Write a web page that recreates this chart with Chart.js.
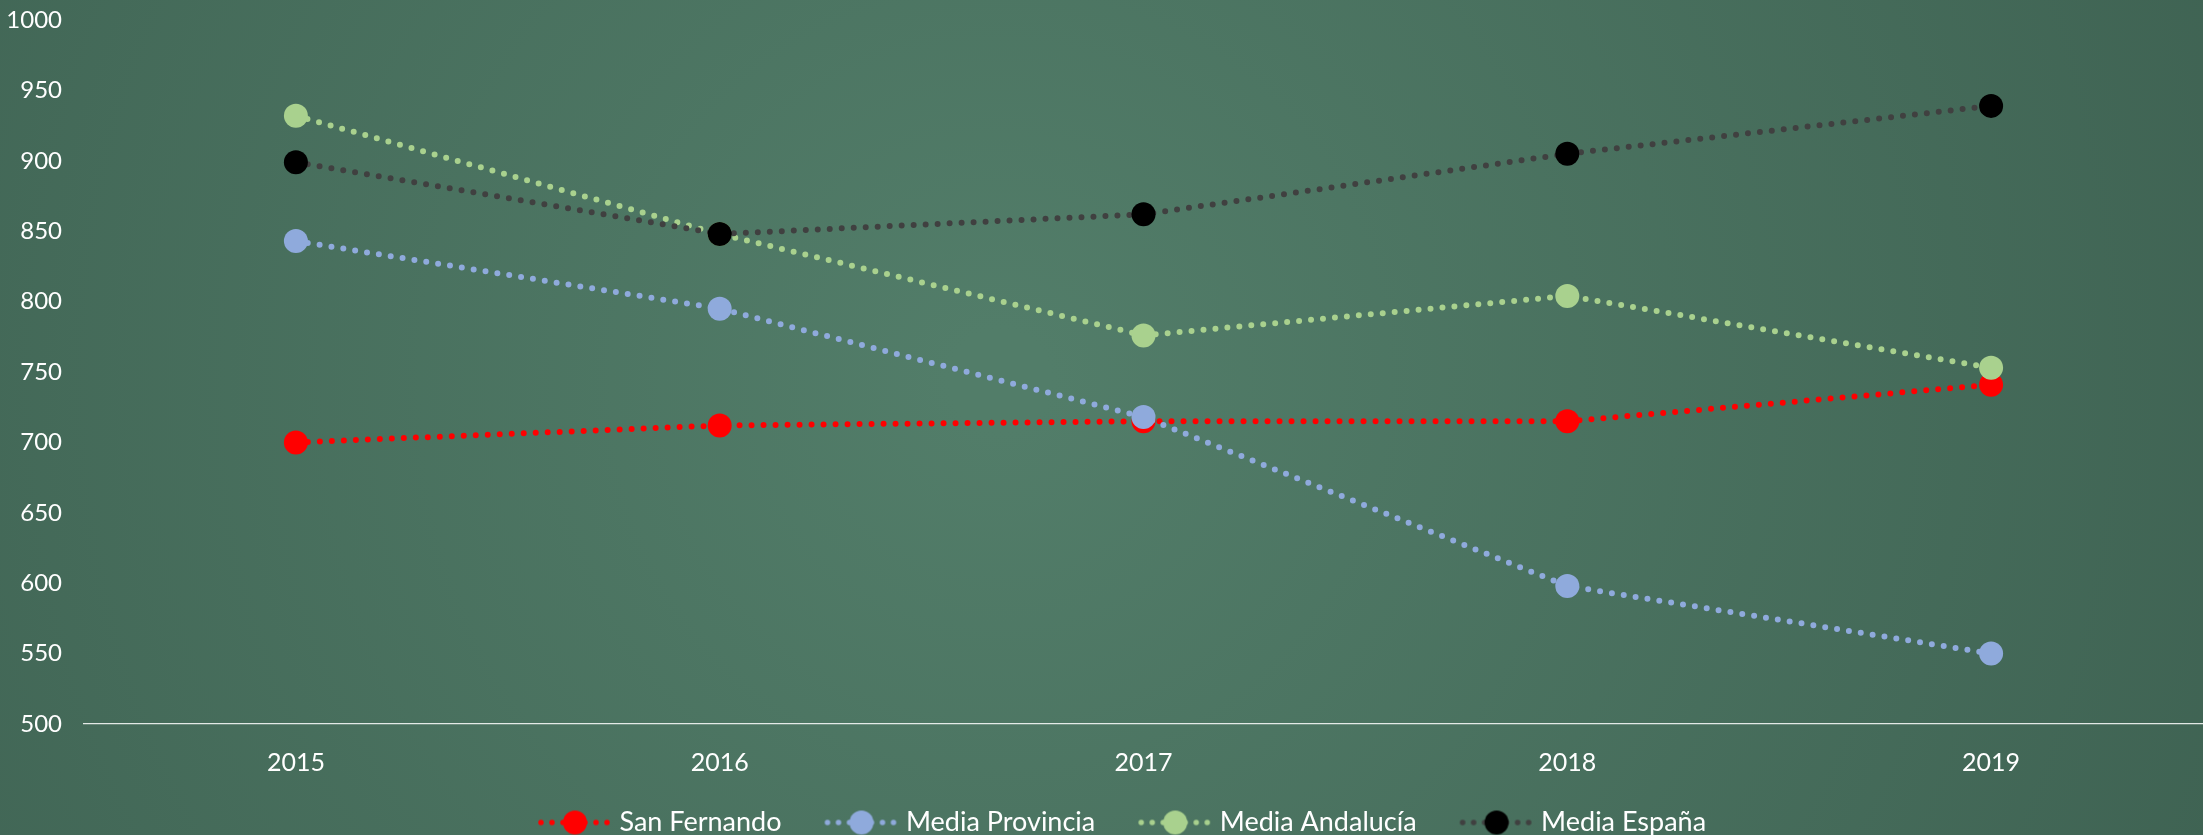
<!DOCTYPE html>
<html>
<head>
<meta charset="utf-8">
<script src="https://cdn.jsdelivr.net/npm/chart.js@4/dist/chart.umd.min.js"></script>
<style>
  html, body { margin: 0; padding: 0; background: #4a7461; }
  #wrap { width: 2203px; height: 835px; }
</style>
</head>
<body>
<div id="wrap"><canvas id="chart" width="2203" height="835"></canvas></div>
<script>
// data
const years = ['2015', '2016', '2017', '2018', '2019'];
const sanFernando = [700, 712, 715, 715, 741];
const mediaProvincia = [843, 795, 718, 598, 550];
const mediaAndalucia = [932, 848, 776, 804, 753];
const mediaEspana = [899, 848, 862, 905, 939];
const seriesNames = ['San Fernando', 'Media Provincia', 'Media Andalucía', 'Media España'];

const FONT = 'Lato, "Open Sans", sans-serif';
const lineColors = ['#ff0000', '#8faadc', '#a9d18e', '#404040'];
const pointColors = ['#ff0000', '#8faadc', '#a9d18e', '#000000'];

// legend marker: dotted line with a dot in the middle
function legendMarker(lineColor, pointColor) {
    let c = document.createElement('canvas');
    c.width = 116;
    c.height = 28;
    let g = c.getContext('2d');
    g.strokeStyle = lineColor;
    g.lineWidth = 5.5;
    g.lineCap = 'round';
    g.setLineDash([0, 11]);
    g.beginPath();
    g.moveTo(45, 14);
    g.lineTo(116, 14);
    g.stroke();
    g.fillStyle = pointColor;
    g.beginPath();
    g.arc(79, 14, 12, 0, Math.PI * 2);
    g.fill();
    return c;
}

function makeSet(i, values) {
    return {
        label: seriesNames[i],
        data: values,
        borderColor: lineColors[i],
        backgroundColor: pointColors[i],
        pointBackgroundColor: pointColors[i],
        pointBorderColor: pointColors[i],
        pointRadius: 12,
        pointHoverRadius: 12,
        pointBorderWidth: 0,
        borderWidth: 6,
        borderDash: [0, 12],
        borderCapStyle: 'round',
        tension: 0,
        order: 4 - i
    };
}

const bgPlugin = {
    id: 'bg',
    beforeDraw(chart) {
        const ctx = chart.ctx;
        let grad = ctx.createRadialGradient(1000, 380, 50, 1000, 380, 1300);
        grad.addColorStop(0, '#527d69');
        grad.addColorStop(1, '#3f6353');
        ctx.save();
        ctx.fillStyle = grad;
        ctx.fillRect(0, 0, chart.width, chart.height);
        ctx.restore();
    }
};

Chart.defaults.font.family = FONT;
Chart.defaults.color = '#ffffff';

new Chart(document.getElementById('chart'), {
    type: 'line',
    data: {
        labels: years,
        datasets: [
            makeSet(0, sanFernando),
            makeSet(1, mediaProvincia),
            makeSet(2, mediaAndalucia),
            makeSet(3, mediaEspana)
        ]
    },
    options: {
        responsive: false,
        animation: false,
        layout: { autoPadding: false, padding: { top: 20, right: -5, left: 0, bottom: -11 } },
        scales: {
            x: {
                offset: true,
                grid: { display: false, drawTicks: false },
                border: { display: true, color: 'rgba(255,255,255,0.85)', width: 1.2, dash: [2, 3] },
                ticks: { color: '#ffffff', font: { size: 25 }, padding: 24 },
                afterFit: function(scale) {
                    scale.paddingLeft = 0;
                    scale.paddingRight = 0;
                }
            },
            y: {
                min: 500,
                max: 1000,
                grid: { display: false, drawTicks: false },
                border: { display: false },
                ticks: {
                    stepSize: 50,
                    color: '#ffffff',
                    font: { size: 24 },
                    padding: 22,
                    callback: (v) => String(v)
                },
                afterFit: function(scale) {
                    scale.width = 84;
                    scale.paddingTop = 0;
                    scale.paddingBottom = 0;
                }
            }
        },
        plugins: {
            tooltip: { enabled: false },
            legend: {
                position: 'bottom',
                labels: {
                    usePointStyle: true,
                    pointStyleWidth: 104,
                    padding: 7,
                    color: '#ffffff',
                    font: { size: 27 },
                    generateLabels: function(chart) {
                        return chart.data.datasets.map((ds, i) => ({
                            text: ds.label,
                            fontColor: '#ffffff',
                            pointStyle: legendMarker(lineColors[i], pointColors[i]),
                            hidden: false,
                            datasetIndex: i,
                            lineWidth: 0,
                            strokeStyle: 'rgba(0,0,0,0)',
                            fillStyle: 'rgba(0,0,0,0)'
                        }));
                    }
                }
            }
        }
    },
    plugins: [bgPlugin]
});
</script>
</body>
</html>
